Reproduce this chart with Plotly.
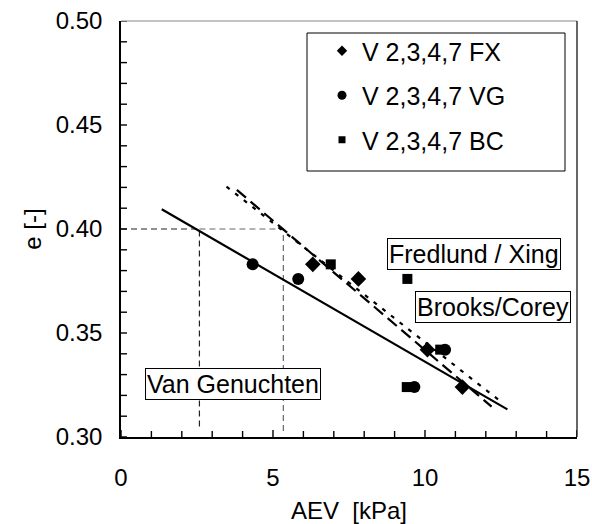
import plotly.graph_objects as go

# --- data ---
fx_x = [6.31, 7.81, 10.08, 11.23]
fx_y = [0.383, 0.376, 0.342, 0.324]
vg_x = [4.33, 5.83, 10.66, 9.65]
vg_y = [0.383, 0.376, 0.342, 0.324]
bc_x = [6.90, 9.42, 10.50, 9.40]
bc_y = [0.383, 0.376, 0.342, 0.324]

vg_fit_x = [1.34, 12.71]
vg_fit_y = [0.4095, 0.3133]
fx_fit_x = [3.81, 12.19]
fx_fit_y = [0.4188, 0.3146]
bc_fit_x = [3.47, 12.47]
bc_fit_y = [0.4204, 0.3173]

ref_e = 0.40
ref_aev_vg = 2.58
ref_aev_fx = 5.34

x_major = [0, 5, 10, 15]
x_minor = list(range(0, 16))
y_major = [0.30, 0.35, 0.40, 0.45, 0.50]
y_minor = [round(0.30 + 0.01 * k, 2) for k in range(21)]

series_names = ["V 2,3,4,7 FX", "V 2,3,4,7 VG", "V 2,3,4,7 BC"]

font_family = "Liberation Sans, Arial, sans-serif"

W, H = 592, 524
ML, MR, MT, MB = 121, 15, 21, 87
PW, PH = W - ML - MR, H - MT - MB

fig = go.Figure()

# reference dashed lines
fig.add_trace(go.Scatter(x=[0, ref_aev_vg, ref_aev_vg], y=[ref_e, ref_e, 0.305],
                         mode="lines", line=dict(color="#222", width=1.2, dash="6px,4px"),
                         showlegend=False, hoverinfo="skip"))
fig.add_trace(go.Scatter(x=[ref_aev_vg, ref_aev_fx, ref_aev_fx], y=[ref_e, ref_e, 0.302],
                         mode="lines", line=dict(color="#666", width=1.2, dash="6px,4px"),
                         showlegend=False, hoverinfo="skip"))

# fit lines
fig.add_trace(go.Scatter(x=vg_fit_x, y=vg_fit_y, mode="lines",
                         line=dict(color="black", width=2.2), showlegend=False))
fig.add_trace(go.Scatter(x=fx_fit_x, y=fx_fit_y, mode="lines",
                         line=dict(color="black", width=2.2, dash="12px,6px"), showlegend=False))
fig.add_trace(go.Scatter(x=bc_fit_x, y=bc_fit_y, mode="lines",
                         line=dict(color="black", width=2.2, dash="4px,7px"), showlegend=False))

# data points
symbols = ["diamond", "circle", "square"]
sizes = [12, 12, 10]
leg_sizes = [8, 9, 7]
for i, (xs, ys) in enumerate([(fx_x, fx_y), (vg_x, vg_y), (bc_x, bc_y)]):
    fig.add_trace(go.Scatter(x=xs, y=ys, mode="markers", name=series_names[i], showlegend=False,
                             marker=dict(symbol=symbols[i], size=sizes[i], color="black")))
    # legend-only entry with smaller symbol
    fig.add_trace(go.Scatter(x=[None], y=[None], mode="markers", name=series_names[i],
                             legendgroup=str(i),
                             marker=dict(symbol=symbols[i], size=leg_sizes[i], color="black")))

ann_font = dict(family=font_family, size=25, color="black")
for txt, x, y in [("Van Genuchten", 3.68, 0.3256),
                  ("Fredlund / Xing", 11.6, 0.388),
                  ("Brooks/Corey", 12.25, 0.3627)]:
    fig.add_annotation(x=x, y=y, text=txt, showarrow=False, xanchor="center", yanchor="middle",
                       font=ann_font, bgcolor="white", bordercolor="black", borderwidth=1, borderpad=1)

# legend frame
fig.add_shape(type="rect", xref="x", yref="y", x0=(307 - 121) / 30.4, x1=(565 - 121) / 30.4,
              y0=0.30 + (437 - 171) / 2080, y1=0.30 + (437 - 33) / 2080,
              line=dict(color="black", width=1), fillcolor="white", layer="below")

# inside tick marks on the axis scales
for v in x_minor:
    ln = 7 if v in x_major else 6
    fig.add_shape(type="line", xref="x", yref="paper", x0=v, x1=v, y0=0, y1=ln / PH,
                  line=dict(color="black", width=1.4), layer="above")
for v in y_minor:
    fig.add_shape(type="line", yref="y", xref="paper", y0=v, y1=v, x0=0, x1=6 / PW,
                  line=dict(color="black", width=1.4), layer="above")

# frame (top grey, right black)
fig.add_shape(type="line", xref="paper", yref="paper", x0=0, x1=1, y0=1, y1=1,
              line=dict(color="#888", width=1.2))
fig.add_shape(type="line", xref="paper", yref="paper", x0=1, x1=1, y0=0, y1=1,
              line=dict(color="black", width=1.2))

fig.update_layout(
    width=W, height=H,
    margin=dict(l=ML, r=MR, t=MT, b=MB, autoexpand=False),
    plot_bgcolor="white", paper_bgcolor="white",
    font=dict(family=font_family, size=24, color="black"),
    legend=dict(x=(322 - 121) / 456, y=1 - (28 - 21) / 416, xanchor="left", yanchor="top",
                borderwidth=0, bgcolor="rgba(0,0,0,0)",
                font=dict(size=25), tracegroupgap=9, itemsizing="trace"),
    xaxis=dict(range=[0, 15], tickvals=x_major, ticks="", showline=True, linecolor="black",
               linewidth=1.5, showgrid=False, zeroline=False, automargin=False,
               ticklabelstandoff=18, ticklabeloverflow="allow",
               title=dict(text="AEV  [kPa]", font=dict(size=24), standoff=18)),
    yaxis=dict(range=[0.30, 0.50], tickvals=y_major, tickformat=".2f", ticks="",
               showline=True, linecolor="black", linewidth=1.5, showgrid=False, zeroline=False,
               ticklabelstandoff=12, automargin=False, ticklabeloverflow="allow",
               title=dict(text="e [-]", font=dict(size=24), standoff=7)),
)

# remove the default page margin so the figure fills the window exactly
fig.write_html("out.html", config={"displayModeBar": False},
               post_script="document.body.style.margin='0';document.body.style.overflow='hidden';")
